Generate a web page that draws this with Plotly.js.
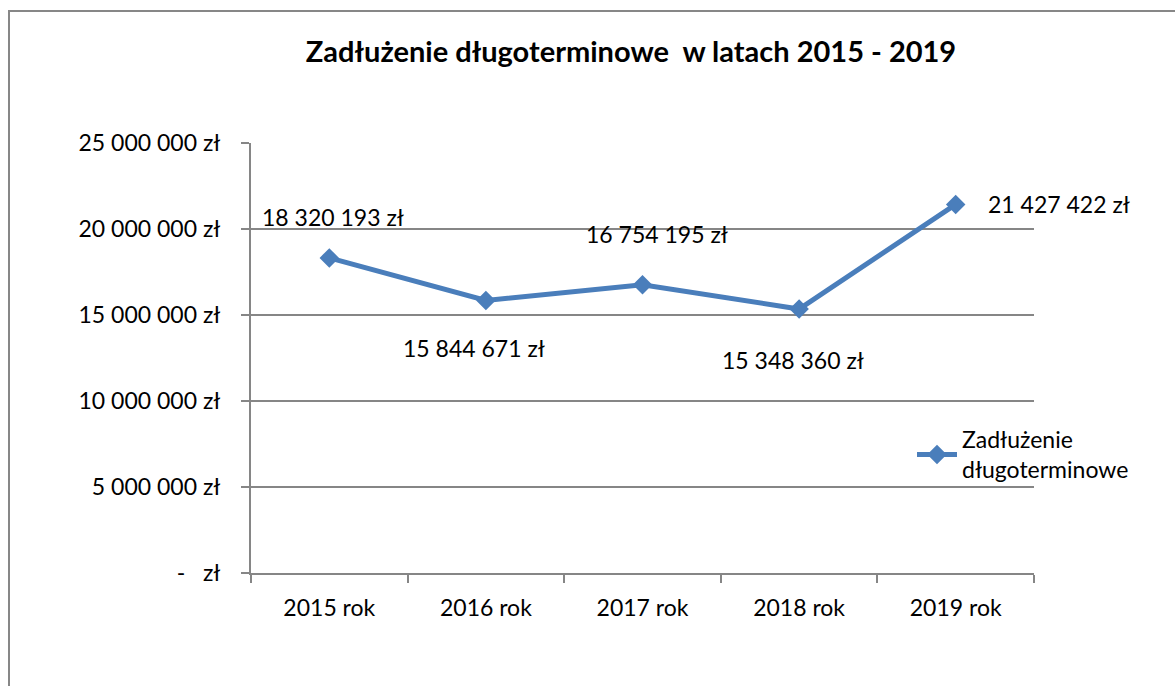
<!DOCTYPE html>
<html><head><meta charset="utf-8">
<script src="https://cdn.plot.ly/plotly-3.0.1.min.js"></script>
<style>html,body{margin:0;padding:0;background:#fff}</style>
</head><body>
<div id="chart" style="width:1175px;height:686px"></div>
<script>
const categories = ["2015 rok","2016 rok","2017 rok","2018 rok","2019 rok"];
const values = [18320193, 15844671, 16754195, 15348360, 21427422];
const valueLabels = ["18 320 193 zł","15 844 671 zł","16 754 195 zł","15 348 360 zł","21 427 422 zł"];
const yTickVals = [0, 5000000, 10000000, 15000000, 20000000, 25000000];
const yTickText = ["-   zł","5 000 000 zł","10 000 000 zł","15 000 000 zł","20 000 000 zł","25 000 000 zł"];
const seriesName = "Zadłużenie<br>długoterminowe";
const titleText = "Zadłużenie długoterminowe  w latach 2015 - 2019";

const FONT = "Lato, 'Open Sans', sans-serif";
const FS = 23;
const labelPos = [
  {xshift: 4, yshift: 41},
  {xshift: -12, yshift: -48},
  {xshift: 14, yshift: 51},
  {xshift: -6, yshift: -51},
  {xshift: 30, yshift: 0, xanchor: 'left'}
];
const annotations = categories.map((c, i) => ({
  x: c, y: values[i], xref: 'x', yref: 'y', text: valueLabels[i], showarrow: false,
  xshift: labelPos[i].xshift, yshift: labelPos[i].yshift, xanchor: labelPos[i].xanchor || 'center',
  font: {family: FONT, size: FS, color: '#000'}
}));

const data = [{
  x: categories, y: values, type: 'scatter', mode: 'lines+markers', name: seriesName,
  line: {color: '#4A7EBB', width: 5},
  marker: {symbol: 'diamond', size: 15, color: '#4A7EBB'}
}];

const gx = p => (p - 251) / 783;
const gy = p => (573 - p) / 430;

const layout = {
  width: 1175, height: 686,
  margin: {l: 251, r: 141, t: 143, b: 113},
  paper_bgcolor: '#fff', plot_bgcolor: '#fff',
  font: {family: FONT, size: FS, color: '#000'},
  title: {text: '<b>' + titleText + '</b>', font: {family: FONT, size: 29, color: '#000'},
          x: 631/1175, xanchor: 'center', y: 1 - 52/686, yanchor: 'middle'},
  xaxis: {
    type: 'category', range: [-0.5, 4.5], showgrid: false, zeroline: false,
    showline: true, linecolor: '#868686', linewidth: 2,
    ticks: 'outside', tickson: 'boundaries', ticklen: 8, tickcolor: '#868686', tickwidth: 2,
    ticklabelstandoff: 13, tickfont: {family: FONT, size: FS, color: '#000'}
  },
  yaxis: {
    range: [0, 25000000], tickvals: yTickVals, ticktext: yTickText,
    showgrid: true, gridcolor: '#868686', gridwidth: 1.5, zeroline: false,
    showline: true, linecolor: '#868686', linewidth: 2,
    ticks: 'outside', ticklen: 8, tickcolor: '#868686', tickwidth: 2,
    ticklabelstandoff: 16, tickfont: {family: FONT, size: FS, color: '#000'}
  },
  showlegend: true,
  legend: {x: gx(912), y: gy(418), xanchor: 'left', yanchor: 'top', bgcolor: 'rgba(0,0,0,0)',
           font: {family: FONT, size: FS, color: '#000'}, itemwidth: 40},
  annotations: annotations,
  shapes: [{type: 'rect', xref: 'paper', yref: 'paper', x0: gx(9), x1: gx(1185), y0: gy(700), y1: gy(11),
            line: {color: '#878787', width: 2}, fillcolor: 'rgba(0,0,0,0)', layer: 'below'}]
};
Plotly.newPlot('chart', data, layout, {displayModeBar: false, staticPlot: true});
</script>
</body></html>
